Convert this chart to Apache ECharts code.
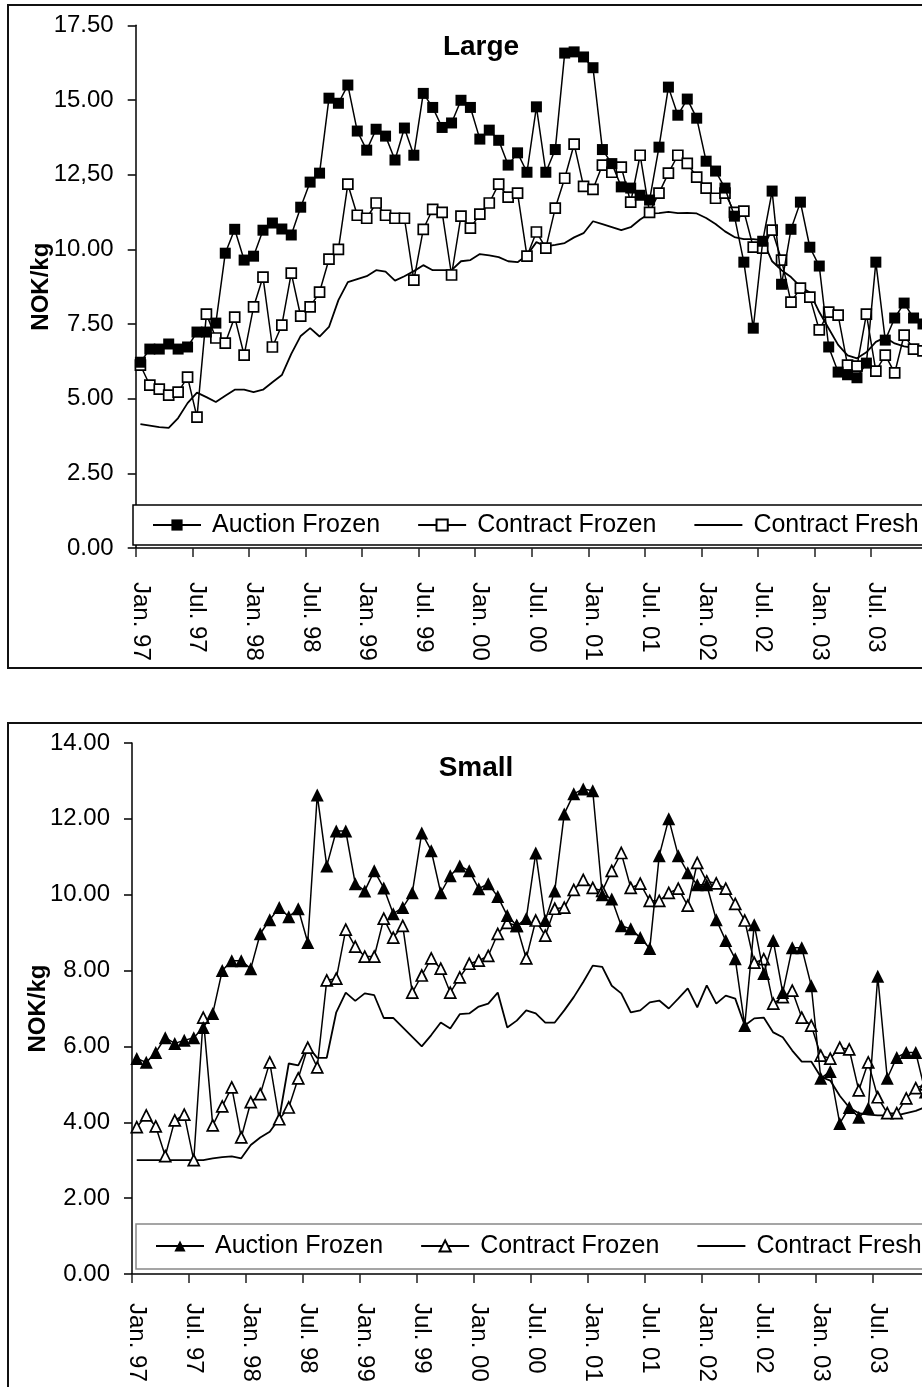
<!DOCTYPE html>
<html>
<head>
<meta charset="utf-8">
<script src="https://cdn.jsdelivr.net/npm/echarts@6/dist/echarts.min.js"></script>
<style>
html,body{margin:0;padding:0;background:#fff;overflow:hidden;width:922px;height:1387px;}
#c1{position:absolute;left:0;top:0;width:960px;height:700px;}
#c2{position:absolute;left:0;top:700px;width:960px;height:700px;}
</style>
</head>
<body>
<div id="c1"></div>
<div id="c2"></div>
<script>
// ---------- categories ----------
const monthNames = ['Jan.','Feb.','Mar.','Apr.','May','Jun.','Jul.','Aug.','Sep.','Oct.','Nov.','Dec.'];
const yearNames = ['97','98','99','00','01','02','03'];
const categories = [];
yearNames.forEach(y => monthNames.forEach(m => categories.push(m + ' ' + y)));

// ---------- tick labels ----------
const largeTicks = ['0.00','2.50','5.00','7.50','10.00','12,50','15.00','17.50'];
const smallTicks = ['0.00','2.00','4.00','6.00','8.00','10.00','12.00','14.00'];

// ---------- Large ----------
const largeAuctionFrozen = [6.22,6.66,6.66,6.83,6.66,6.73,7.23,7.23,7.53,9.87,10.67,9.64,9.77,10.64,10.88,10.68,10.48,11.41,12.25,12.55,
15.06,14.89,15.5,13.96,13.32,14.02,13.79,12.99,14.06,13.15,15.22,14.75,14.08,14.23,14.99,14.75,13.69,13.99,13.65,12.82,
13.23,12.58,14.77,12.58,13.34,16.57,16.61,16.44,16.08,13.34,12.87,12.09,12.05,11.81,11.65,13.42,15.43,14.49,15.03,14.39,
12.95,12.62,12.05,11.11,9.57,7.36,10.27,11.95,8.83,10.67,11.58,10.07,9.44,6.73,5.89,5.8,5.7,6.19,9.57,6.96,
7.7,8.2,7.7,7.5];
const largeContractFrozen = [6.12,5.45,5.32,5.12,5.22,5.72,4.38,7.83,7.03,6.86,7.73,6.46,8.07,9.07,6.73,7.46,9.2,7.76,8.07,8.57,
9.67,10.0,12.18,11.14,11.04,11.55,11.14,11.04,11.04,8.97,10.67,11.34,11.24,9.14,11.11,10.71,11.18,11.55,12.18,11.75,
11.88,9.77,10.58,10.04,11.38,12.38,13.52,12.11,12.01,12.82,12.58,12.75,11.58,13.15,11.24,11.88,12.55,13.15,12.88,12.42,
12.05,11.71,11.88,11.24,11.28,10.07,10.04,10.64,9.64,8.23,8.7,8.4,7.3,7.9,7.8,6.12,6.09,7.83,5.92,6.46,
5.86,7.13,6.66,6.6];
const largeContractFresh = [4.15,4.1,4.05,4.02,4.35,4.85,5.2,5.05,4.89,5.1,5.3,5.3,5.22,5.3,5.55,5.79,6.5,7.1,7.36,7.08,
7.4,8.3,8.9,9.0,9.1,9.3,9.25,8.95,9.1,9.27,9.47,9.3,9.3,9.3,9.6,9.64,9.84,9.8,9.74,9.6,
9.57,9.8,10.24,10.1,10.15,10.21,10.4,10.54,10.94,10.84,10.74,10.64,10.74,11.0,11.2,11.21,11.25,11.21,11.22,11.2,
11.05,10.85,10.6,10.41,10.34,10.34,10.31,9.6,9.3,9.07,8.75,8.55,7.9,7.35,6.8,6.45,6.35,6.55,6.9,7.05,
6.85,6.75,6.7,6.6];

// ---------- Small ----------
const smallAuctionFrozen = [5.68,5.58,5.84,6.23,6.08,6.16,6.23,6.5,6.87,8.0,8.26,8.26,8.05,8.97,9.34,9.66,9.42,9.63,8.74,12.63,
10.76,11.68,11.68,10.29,10.1,10.63,10.18,9.5,9.66,10.05,11.63,11.16,10.05,10.5,10.76,10.63,10.16,10.29,9.95,9.45,
9.18,9.37,11.1,9.32,10.1,12.13,12.66,12.79,12.74,10.0,9.89,9.18,9.1,8.87,8.58,11.03,12.0,11.03,10.58,10.26,
10.26,9.34,8.79,8.31,6.55,9.21,7.92,8.79,7.42,8.6,8.6,7.6,5.16,5.34,3.97,4.39,4.13,4.37,7.85,5.16,
5.71,5.84,5.84,4.8];
const smallContractFrozen = [3.87,4.18,3.89,3.11,4.05,4.2,3.0,6.76,3.92,4.42,4.92,3.6,4.53,4.74,5.58,4.08,4.39,5.16,5.97,5.45,
7.74,7.79,9.08,8.63,8.37,8.37,9.37,8.87,9.18,7.42,7.87,8.32,8.05,7.42,7.82,8.18,8.26,8.39,8.97,9.26,
9.18,8.32,9.32,8.92,9.63,9.66,10.13,10.39,10.18,10.1,10.63,11.1,10.18,10.29,9.84,9.84,10.05,10.16,9.71,10.84,
10.35,10.3,10.16,9.76,9.32,8.21,8.3,7.13,7.3,7.47,6.76,6.55,5.76,5.68,5.97,5.92,4.84,5.58,4.66,4.24,
4.24,4.63,4.9,5.0];
const smallContractFresh = [3.0,3.0,3.0,3.0,3.0,3.0,3.0,3.0,3.05,3.08,3.1,3.05,3.4,3.6,3.75,4.1,5.55,5.5,6.0,5.7,
5.7,6.9,7.42,7.2,7.4,7.35,6.75,6.75,6.5,6.25,6.0,6.3,6.63,6.47,6.85,6.87,7.05,7.13,7.42,6.5,
6.68,6.95,6.87,6.63,6.63,6.95,7.3,7.7,8.13,8.1,7.6,7.4,6.9,6.95,7.16,7.21,7.0,7.26,7.53,7.03,
7.61,7.13,7.34,7.26,6.55,6.74,6.76,6.37,6.24,5.89,5.6,5.6,5.2,5.1,4.7,4.39,4.24,4.2,4.18,4.18,
4.18,4.24,4.3,4.4];

const FONT = "'Liberation Sans', Arial, sans-serif";

function buildOption(cfg) {
  return {
    animation: false,
    backgroundColor: '#fff',
    textStyle: {fontFamily: FONT, color: '#000'},
    graphic: [{
      type: 'rect', silent: true, z: 0,
      shape: {x: 8, y: cfg.frameTop, width: 1000, height: cfg.frameHeight},
      style: {fill: 'none', stroke: '#111', lineWidth: 2}
    }],
    title: {
      text: cfg.title, left: cfg.titleX, top: cfg.titleTop, textAlign: 'center',
      textStyle: {fontFamily: FONT, fontSize: 28, fontWeight: 'bold', color: '#000'}
    },
    legend: {
      data: [
        {name: 'Auction Frozen'},
        {name: 'Contract Frozen'},
        {name: 'Contract Fresh', itemStyle: {opacity: 0}}
      ],
      left: cfg.legendLeft, top: cfg.legendTop,
      orient: 'horizontal',
      padding: cfg.legendPadding,
      borderColor: cfg.legendBorder, borderWidth: 1.5,
      backgroundColor: '#fff',
      itemGap: 37, itemWidth: 48, itemHeight: 14,
      selectedMode: false,
      textStyle: {fontFamily: FONT, fontSize: 25, color: '#000', lineHeight: 28, padding: [0,0,0,6]}
    },
    grid: {left: cfg.gridLeft, top: cfg.gridTop, width: cfg.gridWidth, height: cfg.gridHeight, containLabel: false},
    xAxis: {
      type: 'category', data: categories, boundaryGap: true,
      axisLine: {lineStyle: {color: '#000', width: 1.5}},
      axisTick: {show: true, interval: 5, length: 9, alignWithLabel: false, lineStyle: {color: '#222', width: 1.5}},
      axisLabel: {interval: 5, rotate: -90, margin: cfg.xLabelMargin, fontSize: 24, fontFamily: FONT, color: '#000'},
      splitLine: {show: false}
    },
    yAxis: {
      type: 'value', min: 0, max: cfg.yMax, interval: cfg.yInterval,
      name: 'NOK/kg', nameLocation: 'middle', nameGap: 82, nameRotate: 90,
      nameMoveOverlap: false,
      nameTextStyle: {fontFamily: FONT, fontSize: 24, fontWeight: 'bold', color: '#000'},
      axisLine: {show: true, lineStyle: {color: '#000', width: 1.5}},
      axisTick: {show: true, length: 8, lineStyle: {color: '#000', width: 1.5}},
      axisLabel: {margin: 22, fontSize: 24, fontFamily: FONT, color: '#000',
        formatter: v => cfg.ticks[Math.round(v / cfg.yInterval)]},
      splitLine: {show: false}
    },
    series: [
      {name: 'Contract Fresh', type: 'line', data: cfg.fresh, symbol: 'none', z: 2,
       lineStyle: {color: '#000', width: 1.8}, itemStyle: {color: '#000'}},
      {name: 'Contract Frozen', type: 'line', data: cfg.cf, symbol: cfg.symbol, symbolSize: cfg.hollowSize, z: 3,
       showAllSymbol: true,
       lineStyle: {color: '#000', width: 1.5},
       itemStyle: {color: '#fff', borderColor: '#000', borderWidth: 1.7}},
      {name: 'Auction Frozen', type: 'line', data: cfg.af, symbol: cfg.symbol, symbolSize: cfg.filledSize, z: 4,
       showAllSymbol: true,
       lineStyle: {color: '#000', width: 1.5},
       itemStyle: {color: '#000', borderColor: '#000', borderWidth: 0}}
    ]
  };
}

const c1 = echarts.init(document.getElementById('c1'));
c1.setOption(buildOption({
  frameTop: 5, frameHeight: 663,
  title: 'Large', titleX: 476, titleTop: 28,
  legendLeft: 133, legendTop: 505, legendPadding: [6, 30, 6, 19], legendBorder: '#000',
  gridLeft: 135.7, gridTop: 25.3, gridWidth: 792, gridHeight: 522.7,
  xLabelMargin: 34, yMax: 17.5, yInterval: 2.5, ticks: largeTicks,
  symbol: 'rect', filledSize: 11, hollowSize: 10,
  af: largeAuctionFrozen, cf: largeContractFrozen, fresh: largeContractFresh
}));

const c2 = echarts.init(document.getElementById('c2'));
c2.setOption(buildOption({
  frameTop: 23, frameHeight: 1000,
  title: 'Small', titleX: 471, titleTop: 49,
  legendLeft: 136, legendTop: 524, legendPadding: [8, 30, 9, 19], legendBorder: '#888',
  gridLeft: 132, gridTop: 43, gridWidth: 798, gridHeight: 531,
  xLabelMargin: 29, yMax: 14, yInterval: 2, ticks: smallTicks,
  symbol: 'triangle', filledSize: 13, hollowSize: 11,
  af: smallAuctionFrozen, cf: smallContractFrozen, fresh: smallContractFresh
}));
</script>
</body>
</html>
